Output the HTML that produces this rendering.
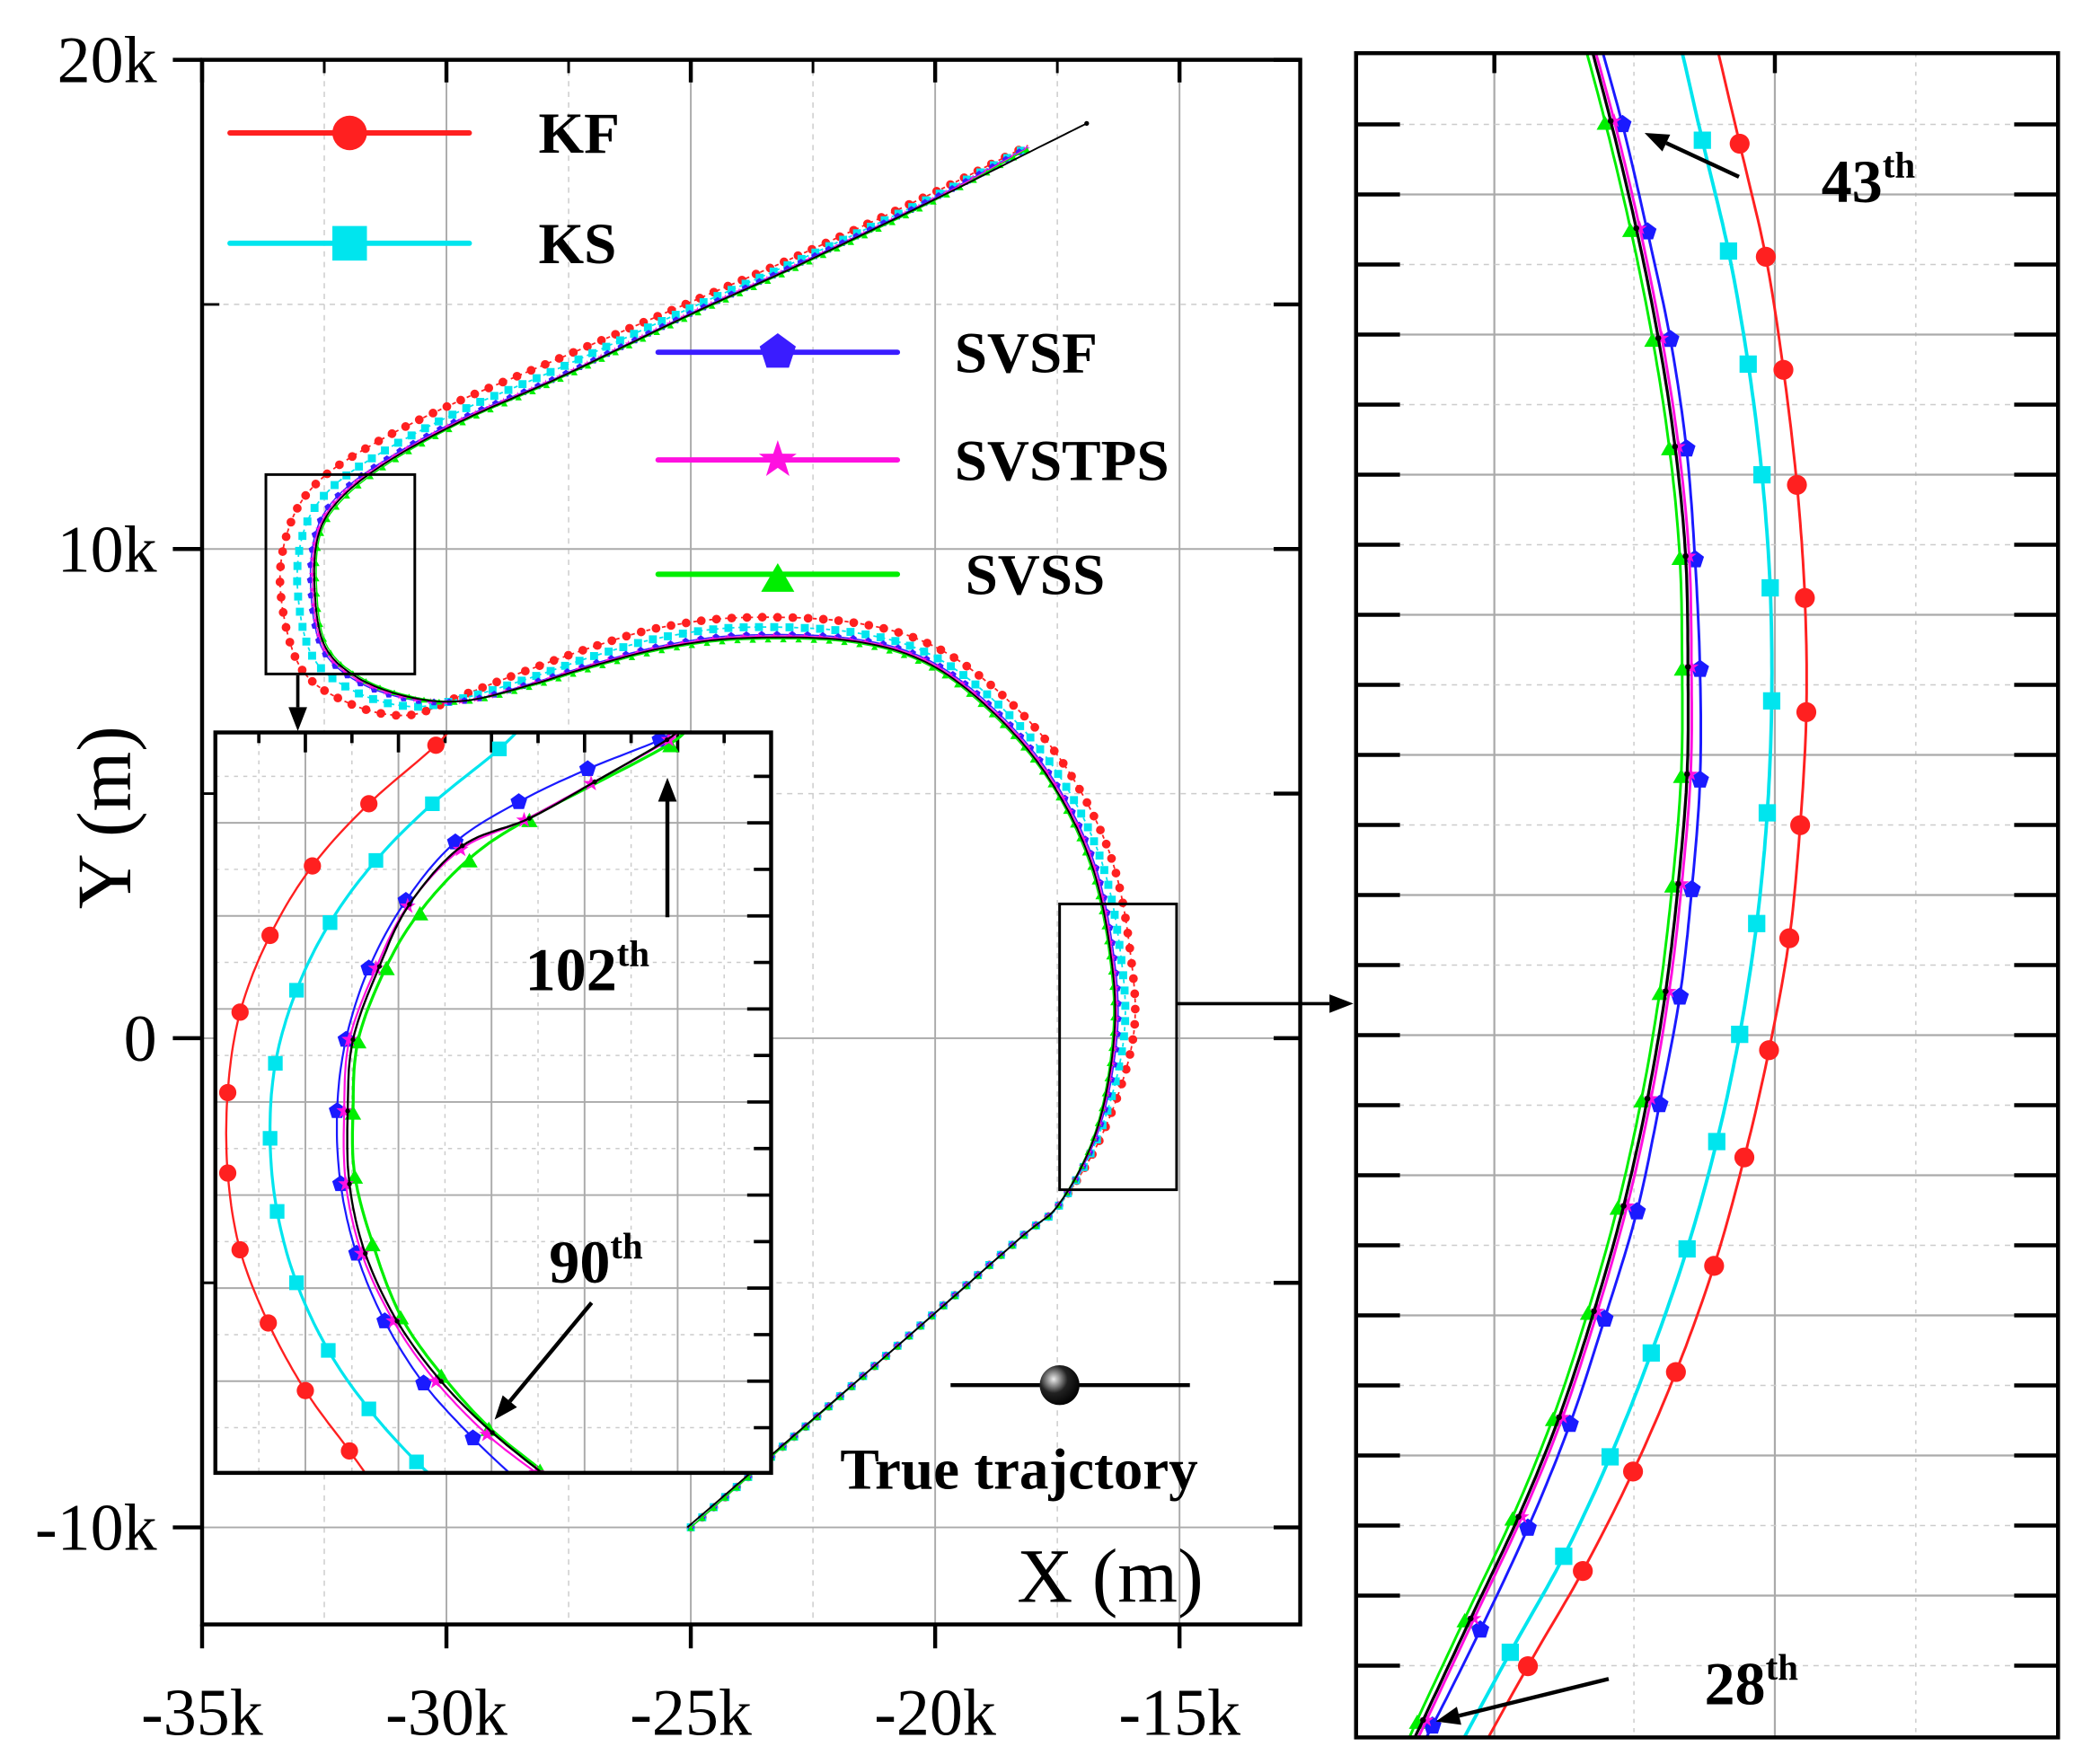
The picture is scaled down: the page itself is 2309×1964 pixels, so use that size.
<!DOCTYPE html>
<html><head><meta charset="utf-8"><style>
html,body{margin:0;padding:0;background:#fff}
svg{display:block}
text{font-family:"Liberation Serif",serif}
</style></head><body>
<svg id="fig" width="2309" height="1964" viewBox="0 0 1560 1327" preserveAspectRatio="none" xmlns="http://www.w3.org/2000/svg">
<defs>
<clipPath id="cMain"><rect x="152" y="45" width="826" height="1177"/></clipPath>
<clipPath id="cIn"><rect x="162" y="551" width="418" height="557"/></clipPath>
<clipPath id="cR"><rect x="1020" y="40" width="528" height="1267"/></clipPath>
</defs>
<g id="main"></g>
<g id="inset"></g>
<g id="right"></g>
<g id="ann"></g>
</svg>
<script>
// ---- main plot data (k m) ----
const mainTrueX=[-25.07,-21.0,-18.3,-17.45,-16.7,-16.34,-16.4,-16.8,-17.6,-18.7,-20.1,-21.7,-23.9,-25.5,-26.9,-28.25,-29.6,-30.7,-31.8,-32.5,-32.7,-32.6,-32.1,-31.1,-29.6,-27.7,-25.0,-22.8,-20.1,-17.9,-16.9];
const mainTrueY=[-10,-6.49,-4.12,-3.37,-1.9,0,1.66,3.56,5.2,6.55,7.64,8.12,8.18,7.99,7.64,7.23,6.9,6.96,7.36,8.04,9.27,10.35,11.1,11.85,12.66,13.5,14.8,15.8,17.1,18.2,18.7];
const mainKfX=[-25.0,-21.0,-18.3,-17.45,-16.55,-15.95,-16.0,-16.4,-17.3,-18.5,-20.0,-21.7,-23.9,-25.6,-27.0,-28.4,-29.7,-30.8,-32.0,-33.0,-33.4,-33.2,-32.6,-31.4,-29.8,-27.8,-25.0,-22.8,-20.1,-18.1];
const mainKfY=[-10,-6.49,-4.12,-3.4,-1.9,0,1.7,3.7,5.5,6.9,8.0,8.5,8.6,8.4,8.0,7.5,7.0,6.6,6.85,7.6,9.2,10.5,11.4,12.2,13.0,13.85,15.05,16.0,17.25,18.25];
const mainKsX=[-25.0,-21.0,-18.3,-17.45,-16.62,-16.14,-16.2,-16.6,-17.45,-18.6,-20.05,-21.7,-23.9,-25.55,-26.95,-28.3,-29.65,-30.75,-31.9,-32.75,-33.05,-32.9,-32.35,-31.25,-29.7,-27.75,-25.0,-22.8,-20.1,-18.1];
const mainKsY=[-10,-6.49,-4.12,-3.4,-1.9,0,1.68,3.63,5.35,6.72,7.82,8.3,8.4,8.2,7.82,7.36,6.95,6.78,7.1,7.82,9.23,10.42,11.25,12.02,12.83,13.67,14.93,15.9,17.17,18.22];
const mainSvsfX=[-25.0,-21.0,-18.3,-17.45,-16.66,-16.28,-16.34,-16.74,-17.55,-18.66,-20.08,-21.7,-23.9,-25.5,-26.9,-28.27,-29.6,-30.72,-31.84,-32.56,-32.78,-32.66,-32.16,-31.12,-29.62,-27.7,-25.0,-22.8,-20.1,-18.1];
const mainSvsfY=[-10,-6.49,-4.12,-3.38,-1.9,0,1.66,3.58,5.24,6.6,7.7,8.17,8.24,8.04,7.68,7.25,6.9,6.92,7.3,8.0,9.26,10.38,11.15,11.9,12.7,13.52,14.82,15.83,17.13,18.21];
const mainSvstpsX=[-25.0,-21.0,-18.3,-17.45,-16.68,-16.31,-16.37,-16.77,-17.57,-18.68,-20.09,-21.7,-23.9,-25.5,-26.9,-28.26,-29.6,-30.71,-31.82,-32.53,-32.74,-32.63,-32.13,-31.11,-29.61,-27.7,-25.0,-22.8,-20.1,-18.1];
const mainSvstpsY=[-10,-6.49,-4.12,-3.37,-1.9,0,1.66,3.57,5.22,6.57,7.67,8.14,8.21,8.01,7.66,7.24,6.9,6.94,7.33,8.02,9.26,10.36,11.12,11.87,12.68,13.51,14.81,15.81,17.11,18.2];
const mainSvssX=[-25.0,-21.0,-18.3,-17.45,-16.72,-16.37,-16.43,-16.83,-17.62,-18.72,-20.11,-21.7,-23.9,-25.5,-26.9,-28.24,-29.59,-30.69,-31.78,-32.47,-32.66,-32.57,-32.07,-31.08,-29.59,-27.69,-25.0,-22.8,-20.1,-18.1];
const mainSvssY=[-10,-6.49,-4.12,-3.36,-1.9,0,1.65,3.54,5.18,6.52,7.61,8.09,8.15,7.96,7.61,7.21,6.9,6.98,7.39,8.07,9.28,10.33,11.07,11.82,12.64,13.48,14.78,15.78,17.08,18.18];
const mainXTicks=[-35,-30,-25,-20,-15];
const mainXTickLabels=["-35k","-30k","-25k","-20k","-15k"];
const mainYTicks=[20,10,0,-10];
const mainYTickLabels=["20k","10k","0","-10k"];
// ---- inset data ----
const inKfX=[-32.35,-32.50,-32.88,-33.20,-33.44,-33.61,-33.68,-33.68,-33.61,-33.45,-33.24,-32.99,-32.85];
const inKfY=[11.6,11.43,11.11,10.77,10.39,9.97,9.53,9.09,8.67,8.27,7.90,7.57,7.38];
const inKsX=[-31.95,-32.14,-32.52,-32.84,-33.10,-33.29,-33.41,-33.44,-33.40,-33.29,-33.11,-32.88,-32.61,-32.45];
const inKsY=[11.6,11.41,11.11,10.80,10.46,10.09,9.69,9.28,8.88,8.49,8.12,7.80,7.51,7.38];
const inSvsfX=[-31.1,-31.23,-31.64,-32.03,-32.39,-32.67,-32.88,-33.01,-33.06,-33.04,-32.95,-32.79,-32.57,-32.29,-32.05];
const inSvsfY=[11.55,11.46,11.30,11.12,10.90,10.58,10.21,9.82,9.43,9.03,8.65,8.28,7.94,7.64,7.42];
const inSvstpsX=[-31.1,-31.18,-31.62,-32.0,-32.36,-32.66,-32.84,-32.99,-33.02,-33.01,-32.92,-32.74,-32.5,-32.21,-31.93,-31.85];
const inSvstpsY=[11.55,11.46,11.22,11.02,10.86,10.55,10.21,9.82,9.43,9.03,8.65,8.28,7.95,7.66,7.45,7.4];
const inSvssX=[-31.1,-31.17,-31.97,-32.31,-32.59,-32.78,-32.94,-32.97,-32.96,-32.86,-32.70,-32.47,-32.20,-31.91,-31.83];
const inSvssY=[11.55,11.44,11.03,10.81,10.52,10.22,9.82,9.43,9.08,8.71,8.31,7.99,7.70,7.47,7.4];
const inTrueX=[-31.1,-31.19,-31.60,-31.97,-32.35,-32.65,-32.82,-32.97,-33.00,-32.99,-32.90,-32.72,-32.47,-32.18,-31.90,-31.85];
const inTrueY=[11.55,11.46,11.23,11.03,10.88,10.56,10.22,9.82,9.43,9.03,8.65,8.28,7.95,7.67,7.45,7.4];
// ---- right panel data ----
const rKfX=[-16.239,-16.144,-16.055,-15.995,-15.949,-15.922,-15.917,-15.938,-15.975,-16.044,-16.128,-16.231,-16.361,-16.507,-16.678,-16.865,-17.052];
const rKfY=[2.818,2.406,2.014,1.622,1.223,0.831,0.435,0.043,-0.349,-0.737,-1.109,-1.485,-1.853,-2.198,-2.543,-2.873,-3.217];
const rKsX=[-16.361,-16.271,-16.182,-16.115,-16.068,-16.040,-16.035,-16.050,-16.086,-16.144,-16.222,-16.323,-16.445,-16.585,-16.743,-16.925,-17.133];
const rKsY=[2.818,2.418,2.034,1.642,1.258,0.866,0.474,0.086,-0.298,-0.682,-1.054,-1.426,-1.787,-2.147,-2.492,-2.825,-3.217];
const rSvsfX=[-16.637,-16.543,-16.458,-16.380,-16.325,-16.296,-16.279,-16.279,-16.307,-16.348,-16.417,-16.494,-16.604,-16.722,-16.865,-17.027,-17.190,-17.263];
const rSvsfY=[2.818,2.473,2.101,1.728,1.348,0.964,0.584,0.200,-0.180,-0.552,-0.925,-1.297,-1.669,-2.034,-2.394,-2.747,-3.080,-3.217];
const rSvstpsX=[-16.66,-16.571,-16.484,-16.409,-16.352,-16.316,-16.308,-16.311,-16.341,-16.384,-16.446,-16.527,-16.628,-16.747,-16.885,-17.048,-17.210,-17.284];
const rSvstpsY=[2.818,2.485,2.113,1.732,1.356,0.976,0.592,0.220,-0.160,-0.533,-0.905,-1.277,-1.642,-2.010,-2.355,-2.708,-3.060,-3.217];
const rSvssX=[-16.69,-16.603,-16.516,-16.441,-16.384,-16.348,-16.340,-16.343,-16.373,-16.416,-16.478,-16.559,-16.660,-16.779,-16.917,-17.080,-17.242,-17.31];
const rSvssY=[2.818,2.485,2.113,1.732,1.356,0.976,0.592,0.220,-0.160,-0.533,-0.905,-1.277,-1.642,-2.010,-2.355,-2.708,-3.060,-3.217];
const rTrueX=[-16.67,-16.583,-16.496,-16.421,-16.364,-16.328,-16.320,-16.323,-16.353,-16.396,-16.458,-16.539,-16.640,-16.759,-16.897,-17.060,-17.222,-17.296];
const rTrueY=[2.818,2.485,2.113,1.732,1.356,0.976,0.592,0.220,-0.160,-0.533,-0.905,-1.277,-1.642,-2.010,-2.355,-2.708,-3.060,-3.217];

const NS="http://www.w3.org/2000/svg";
function mk(tag,attrs,parent){const e=document.createElementNS(NS,tag);for(const k in attrs)e.setAttribute(k,attrs[k]);parent.appendChild(e);return e;}
const mx=v=>152+(v+35)*36.76, my=v=>45+(20-v)*36.8;
const ix=v=>162+(v+33.75)/3.15*418, iy=v=>551+(11.5-v)/4.05*557;
const rx=v=>1020+(v+17.45)/2.39*528, ry=v=>40+(2.72-v)/5.84*1267;

function markerPath(type,x,y,s){
  if(type==='circle')return `M${x-s},${y}a${s},${s} 0 1,0 ${2*s},0a${s},${s} 0 1,0 ${-2*s},0Z`;
  if(type==='square')return `M${x-s},${y-s}h${2*s}v${2*s}h${-2*s}Z`;
  let pts=[];
  if(type==='pent'){for(let i=0;i<5;i++){const a=-Math.PI/2+i*2*Math.PI/5;pts.push([x+s*1.1*Math.cos(a),y+s*1.1*Math.sin(a)]);}}
  if(type==='tri'){for(let i=0;i<3;i++){const a=-Math.PI/2+i*2*Math.PI/3;pts.push([x+s*1.2*Math.cos(a),y+s*0.5+s*1.2*Math.sin(a)]);}}
  if(type==='star'){for(let i=0;i<10;i++){const a=-Math.PI/2+i*Math.PI/5;const rr=i%2?s*0.45:s*1.15;pts.push([x+rr*Math.cos(a),y+rr*Math.sin(a)]);}}
  return 'M'+pts.map(p=>p[0].toFixed(1)+','+p[1].toFixed(1)).join('L')+'Z';
}
function smooth(pts,n){
  const out=[];
  for(let i=0;i<pts.length-1;i++){
    const p0=pts[Math.max(0,i-1)],p1=pts[i],p2=pts[i+1],p3=pts[Math.min(pts.length-1,i+2)];
    for(let k=0;k<n;k++){const t=k/n,t2=t*t,t3=t2*t;
      out.push([0,1].map(j=>0.5*((2*p1[j])+(-p0[j]+p2[j])*t+(2*p0[j]-5*p1[j]+4*p2[j]-p3[j])*t2+(-p0[j]+3*p1[j]-3*p2[j]+p3[j])*t3)));}
  }
  out.push(pts[pts.length-1]);return out;
}
function resample(pts,step){
  const out=[];let acc=0;out.push(pts[0]);
  for(let i=1;i<pts.length;i++){
    const [x0,y0]=pts[i-1],[x1,y1]=pts[i];const L=Math.hypot(x1-x0,y1-y0);if(L===0)continue;let t=step-acc;
    while(t<=L){out.push([x0+(x1-x0)*t/L,y0+(y1-y0)*t/L]);t+=step;}
    acc=L-(t-step);
  }
  return out;
}
function series(parent,name,xs,ys,sx,sy,color,lw,mtype,ms,mode,dash){
  const g=mk('g',{},parent);
  
  
  const pts=xs.map((v,i)=>[sx(v),sy(ys[i])]);
  const sp=smooth(pts,12);
  const ln=mk('polyline',{points:sp.map(p=>p[0].toFixed(1)+','+p[1].toFixed(1)).join(' '),fill:'none',stroke:color,'stroke-width':lw,'stroke-linejoin':'round'},g);
  if(dash)ln.setAttribute('stroke-dasharray',dash);
  
  
  if(!mtype)return;
  let mp;
  if(mode==='resample')mp=resample(sp,11.5);
  else mp=pts.slice(1,-1);
  let d='';mp.forEach(p=>{d+=markerPath(mtype,p[0],p[1],ms);});
  const m=mk('path',{d:d,fill:color,stroke:'none'},g);
  
  
}

// ========== MAIN PLOT ==========
const main=document.getElementById('main');
const grid=mk('g',{},main);


[-32.5,-27.5,-22.5,-17.5].forEach(v=>mk('line',{x1:mx(v),x2:mx(v),y1:45,y2:1222,stroke:'#ccc','stroke-width':1,'stroke-dasharray':'4,4'},grid));
[-30,-25,-20,-15].forEach(v=>mk('line',{x1:mx(v),x2:mx(v),y1:45,y2:1222,stroke:'#aaa','stroke-width':1.3},grid));
[15,5,-5].forEach(v=>mk('line',{x1:152,x2:978,y1:my(v),y2:my(v),stroke:'#ccc','stroke-width':1,'stroke-dasharray':'4,4'},grid));
[10,0,-10].forEach(v=>mk('line',{x1:152,x2:978,y1:my(v),y2:my(v),stroke:'#aaa','stroke-width':1.3},grid));
const mdata=mk('g',{'clip-path':'url(#cMain)'},main);
series(mdata,'kf-series',mainKfX,mainKfY,mx,my,'#ff2020',1.2,'circle',3.3,'resample','3,3');
series(mdata,'ks-series',mainKsX,mainKsY,mx,my,'#00e5ee',1.2,'square',3,'resample','3,3');
series(mdata,'svsf-series',mainSvsfX,mainSvsfY,mx,my,'#3a1cff',1,'pent',2.6,'resample');
series(mdata,'svstps-series',mainSvstpsX,mainSvstpsY,mx,my,'#ff10e0',1,'star',2.4,'resample');
series(mdata,'svss-series',mainSvssX,mainSvssY,mx,my,'#00ee00',1,'tri',2.4,'resample');
series(mdata,'true-series',mainTrueX,mainTrueY,mx,my,'#000',1.3,null);
mk('circle',{cx:mx(-16.9),cy:my(18.7),r:1.8,fill:'#000'},mdata);
const ax=mk('g',{},main);


mk('rect',{x:152,y:45,width:826,height:1177,fill:'none',stroke:'#000','stroke-width':3},ax);
mainXTicks.forEach((v,i)=>{
  mk('line',{x1:mx(v),x2:mx(v),y1:1222,y2:1240,stroke:'#000','stroke-width':3},ax);
  mk('line',{x1:mx(v),x2:mx(v),y1:45,y2:62,stroke:'#000','stroke-width':3},ax);
  const t=mk('text',{x:mx(v),y:1305,'font-size':50,'text-anchor':'middle'},ax);t.textContent=mainXTickLabels[i];
  
  
});
[-32.5,-27.5,-22.5,-17.5].forEach(v=>mk('line',{x1:mx(v),x2:mx(v),y1:45,y2:55,stroke:'#000','stroke-width':2},ax));
mainYTicks.forEach((v,i)=>{
  mk('line',{x1:130,x2:152,y1:my(v),y2:my(v),stroke:'#000','stroke-width':3},ax);
  const t=mk('text',{x:118,y:my(v)+17,'font-size':50,'text-anchor':'end'},ax);t.textContent=mainYTickLabels[i];
  
  
});
[20,15,10,5,0,-5,-10].forEach(v=>mk('line',{x1:958,x2:978,y1:my(v),y2:my(v),stroke:'#000','stroke-width':3},ax));
[15,5,-5].forEach(v=>mk('line',{x1:152,x2:165,y1:my(v),y2:my(v),stroke:'#000','stroke-width':2},ax));
const xt=mk('text',{x:765,y:1205,'font-size':58},ax);xt.textContent='X  (m)';


const yt=mk('text',{x:0,y:0,'font-size':58,transform:'translate(98,615) rotate(-90)','text-anchor':'middle'},ax);yt.textContent='Y  (m)';



const lg=mk('g',{},main);


function legendEntry(name,x1,x2,y,color,mtype,ms,label,tx){
  const g=mk('g',{},lg);
  
  
  mk('line',{x1:x1,x2:x2,y1:y,y2:y,stroke:color,'stroke-width':4,'stroke-linecap':'round'},g);
  mk('path',{d:markerPath(mtype,(x1+x2)/2,y,ms),fill:color},g);
  const t=mk('text',{x:tx,y:y+15,'font-size':44,'font-weight':'bold'},g);t.textContent=label;
}
legendEntry('legend-entry-kf',173,353,100,'#ff2020','circle',13,'KF',405);
legendEntry('legend-entry-ks',173,353,183,'#00e5ee','square',13,'KS',405);
legendEntry('legend-entry-svsf',495,675,265,'#3a1cff','pent',13,'SVSF',718);
legendEntry('legend-entry-svstps',495,675,346,'#ff10e0','star',13,'SVSTPS',718);
legendEntry('legend-entry-svss',495,675,432,'#00ee00','tri',12,'SVSS',726);
const tl=mk('g',{},lg);


mk('line',{x1:715,x2:895,y1:1042,y2:1042,stroke:'#000','stroke-width':3},tl);
const rg=mk('radialGradient',{id:'ballg',cx:'0.35',cy:'0.35',r:'0.7'},document.querySelector('defs'));
mk('stop',{offset:'0','stop-color':'#eee'},rg);mk('stop',{offset:'0.5','stop-color':'#222'},rg);mk('stop',{offset:'1','stop-color':'#000'},rg);
mk('circle',{cx:797,cy:1042,r:15,fill:'url(#ballg)'},tl);
const ttt=mk('text',{x:632,y:1120,'font-size':44,'font-weight':'bold'},tl);ttt.textContent='True trajctory';

mk('rect',{x:200,y:357,width:112,height:150,fill:'none',stroke:'#000','stroke-width':2},main);
mk('rect',{x:797,y:680,width:88,height:215,fill:'none',stroke:'#000','stroke-width':2},main);

// ========== INSET ==========
const inset=document.getElementById('inset');
mk('rect',{x:162,y:551,width:418,height:557,fill:'#fff'},inset);
const ig=mk('g',{},inset);


for(let k=0;k<12;k++){const x=194.7+k*35;if(x>578)break;mk('line',{x1:x,x2:x,y1:551,y2:1108,stroke:k%2?'#aaa':'#ccc','stroke-width':k%2?1.3:1,'stroke-dasharray':k%2?'':'3,4'},ig);
  mk('line',{x1:x,x2:x,y1:551,y2:k%2?566:559,stroke:'#000','stroke-width':2.5},ig);}
for(let k=0;k<16;k++){const y=584+k*35;if(y>1106)break;mk('line',{x1:162,x2:580,y1:y,y2:y,stroke:k%2?'#aaa':'#ccc','stroke-width':k%2?1.3:1,'stroke-dasharray':k%2?'':'3,4'},ig);
  mk('line',{x1:k%2?562:567,x2:580,y1:y,y2:y,stroke:'#000','stroke-width':2.5},ig);}
const idata=mk('g',{'clip-path':'url(#cIn)'},inset);
series(idata,'inset-kf-series',inKfX,inKfY,ix,iy,'#ff2020',1.6,'circle',6.5,'inner');
series(idata,'inset-ks-series',inKsX,inKsY,ix,iy,'#00e5ee',2.2,'square',5.5,'inner');
series(idata,'inset-svsf-series',inSvsfX,inSvsfY,ix,iy,'#1a1aff',1.5,'pent',6,'inner');
series(idata,'inset-svss-series',inSvssX,inSvssY,ix,iy,'#00ee00',2.2,'tri',6,'inner');
series(idata,'inset-svstps-series',inSvstpsX,inSvstpsY,ix,iy,'#ff10e0',1.5,'star',5.5,'inner');
series(idata,'inset-true-series',inTrueX,inTrueY,ix,iy,'#000',1.6,'circle',1.8,'inner');
mk('rect',{x:162,y:551,width:418,height:557,fill:'none',stroke:'#000','stroke-width':3},inset);

// ========== RIGHT PANEL ==========
const right=document.getElementById('right');
const rgd=mk('g',{},right);


[[1124,1],[1229,0],[1335,1],[1441,0]].forEach(([x,s])=>{
  mk('line',{x1:x,x2:x,y1:40,y2:1307,stroke:s?'#aaa':'#ccc','stroke-width':s?1.5:1,'stroke-dasharray':s?'':'3,4'},rgd);
  if(s)mk('line',{x1:x,x2:x,y1:40,y2:55,stroke:'#000','stroke-width':3},rgd);
});
for(let k=0;k<24;k++){const y=93.6+k*52.7;if(y>1300)break;const s=k%2===1;
  mk('line',{x1:1020,x2:1548,y1:y,y2:y,stroke:s?'#aaa':'#ccc','stroke-width':s?1.5:1,'stroke-dasharray':s?'':'4,4'},rgd);
  mk('line',{x1:1020,x2:1053,y1:y,y2:y,stroke:'#000','stroke-width':3},rgd);
  mk('line',{x1:1515,x2:1548,y1:y,y2:y,stroke:'#000','stroke-width':3},rgd);
}
const rdata=mk('g',{'clip-path':'url(#cR)'},right);
series(rdata,'right-kf-series',rKfX,rKfY,rx,ry,'#ff2020',2,'circle',7.5,'inner');
series(rdata,'right-ks-series',rKsX,rKsY,rx,ry,'#00e5ee',2.6,'square',6.5,'inner');
series(rdata,'right-svsf-series',rSvsfX,rSvsfY,rx,ry,'#1a1aff',2,'pent',6.5,'inner');
series(rdata,'right-svss-series',rSvssX,rSvssY,rx,ry,'#00ee00',2,'tri',6,'inner');
series(rdata,'right-svstps-series',rSvstpsX,rSvstpsY,rx,ry,'#ff10e0',2,'star',5,'inner');
series(rdata,'right-true-series',rTrueX,rTrueY,rx,ry,'#000',2.2,'circle',2.2,'inner');
mk('rect',{x:1020,y:40,width:528,height:1267,fill:'none',stroke:'#000','stroke-width':3},right);

// ========== ANNOTATIONS ==========
const ann=document.getElementById('ann');
function arrow(name,x1,y1,x2,y2,w){
  const g=mk('g',{},ann);
  
  
  const a=Math.atan2(y2-y1,x2-x1),L=18,H=7;
  const bx=x2-L*Math.cos(a),by=y2-L*Math.sin(a);
  mk('line',{x1:x1,y1:y1,x2:bx,y2:by,stroke:'#000','stroke-width':w||2.5},g);
  mk('path',{d:`M${x2},${y2}L${bx+H*Math.sin(a)},${by-H*Math.cos(a)}L${bx-H*Math.sin(a)},${by+H*Math.cos(a)}Z`,fill:'#000'},g);
}
function label(name,x,y,num,fs){
  const t=mk('text',{x:x,y:y,'font-size':fs,'font-weight':'bold'},ann);
  
  
  t.appendChild(document.createTextNode(num));
  const s=mk('tspan',{'font-size':fs*0.6,dy:-fs*0.4},t);s.textContent='th';
}
arrow('arrow-to-inset',224,508,224,550,2.5);
arrow('arrow-to-right-panel',885,755,1018,755,2.5);
arrow('arrow-102th',502,690,502,585,3);
label('label-102th',395,745,'102',46);
arrow('arrow-90th',445,980,372,1068,3);
label('label-90th',413,965,'90',46);
arrow('arrow-43th',1308,133,1237,100,3);
label('label-43th',1370,152,'43',46);
arrow('arrow-28th',1210,1263,1080,1295,3);
label('label-28th',1282,1282,'28',46);
</script>
</body></html>
